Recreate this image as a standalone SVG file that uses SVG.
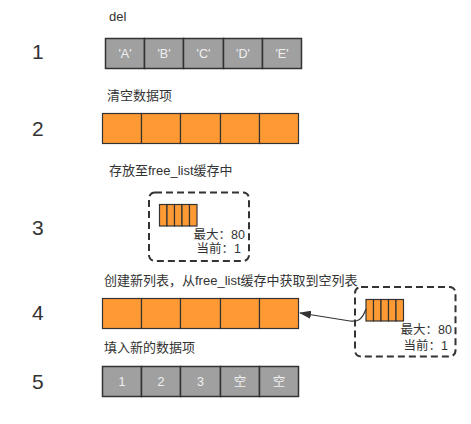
<svg xmlns="http://www.w3.org/2000/svg" width="471" height="424" viewBox="0 0 471 424">
<defs>
<style>
.num{font-family:"Liberation Sans",Arial,sans-serif;font-size:21px;fill:#333}
.lbl{font-family:"Liberation Sans","Noto Sans CJK SC",sans-serif;font-size:13px;fill:#333}
.gc{fill:#a0a0a0;stroke:#333;stroke-width:1.5}
.oc{fill:#fe9a33;stroke:#333;stroke-width:1.2}
.ct{font-family:"Liberation Sans","Noto Sans CJK SC",sans-serif;font-size:12.5px;fill:#f0f0f0;text-anchor:middle}
.dash{fill:none;stroke:#333;stroke-width:2;stroke-dasharray:7 4}
.info{font-family:"Liberation Sans","Noto Sans CJK SC",sans-serif;font-size:12.5px;fill:#333;text-anchor:end}
</style>
<marker id="ah" markerWidth="12" markerHeight="8" refX="11" refY="4" orient="auto" markerUnits="userSpaceOnUse">
<path d="M0,0 L12,4 L0,8 z" fill="#333"/>
</marker>
</defs>
<rect width="471" height="424" fill="#fff"/>

<g id="row-numbers">
<text class="num" x="32" y="59">1</text>
<text class="num" x="32" y="136">2</text>
<text class="num" x="32" y="235">3</text>
<text class="num" x="32" y="320">4</text>
<text class="num" x="32" y="389">5</text>
</g>

<g id="labels">
<text class="lbl" x="109" y="21">del</text>
<text class="lbl" x="107" y="100">清空数据项</text>
<text class="lbl" x="109" y="175">存放至free_list缓存中</text>
<text class="lbl" x="104" y="285">创建新列表，从free_list缓存中获取到空列表</text>
<text class="lbl" x="104" y="352">填入新的数据项</text>
</g>

<g id="list1">
<rect class="gc" x="105.5" y="38.5" width="39" height="30"/>
<rect class="gc" x="144.5" y="38.5" width="39" height="30"/>
<rect class="gc" x="183.5" y="38.5" width="40" height="30"/>
<rect class="gc" x="223.5" y="38.5" width="39" height="30"/>
<rect class="gc" x="262.5" y="38.5" width="39" height="30"/>
<text class="ct" x="125" y="58">'A'</text>
<text class="ct" x="164" y="58">'B'</text>
<text class="ct" x="203.5" y="58">'C'</text>
<text class="ct" x="243" y="58">'D'</text>
<text class="ct" x="282" y="58">'E'</text>
</g>

<g id="list2">
<rect class="oc" x="102.5" y="113.5" width="39" height="30"/>
<rect class="oc" x="141.5" y="113.5" width="39" height="30"/>
<rect class="oc" x="180.5" y="113.5" width="40" height="30"/>
<rect class="oc" x="220.5" y="113.5" width="39" height="30"/>
<rect class="oc" x="259.5" y="113.5" width="39" height="30"/>
</g>

<g id="cache3">
<rect class="dash" x="149" y="192.5" width="100" height="68.5" rx="6"/>
<rect class="oc" x="159.5" y="204.5" width="7.5" height="21.5"/>
<rect class="oc" x="167" y="204.5" width="7.5" height="21.5"/>
<rect class="oc" x="174.5" y="204.5" width="7.5" height="21.5"/>
<rect class="oc" x="182" y="204.5" width="7.5" height="21.5"/>
<rect class="oc" x="189.5" y="204.5" width="7.5" height="21.5"/>
<text class="info" x="245" y="239">最大：80</text>
<text class="info" x="241" y="253">当前：1</text>
</g>

<g id="list4">
<rect class="oc" x="102.5" y="298.5" width="39" height="30"/>
<rect class="oc" x="141.5" y="298.5" width="39" height="30"/>
<rect class="oc" x="180.5" y="298.5" width="40" height="30"/>
<rect class="oc" x="220.5" y="298.5" width="39" height="30"/>
<rect class="oc" x="259.5" y="298.5" width="39" height="30"/>
</g>

<g id="cache4">
<rect class="dash" x="355" y="287" width="100.5" height="69.5" rx="6"/>
<rect class="oc" x="366" y="299.5" width="7.5" height="21.5"/>
<rect class="oc" x="373.5" y="299.5" width="7.5" height="21.5"/>
<rect class="oc" x="381" y="299.5" width="7.5" height="21.5"/>
<rect class="oc" x="388.5" y="299.5" width="7.5" height="21.5"/>
<rect class="oc" x="396" y="299.5" width="7.5" height="21.5"/>
<text class="info" x="452" y="334">最大：80</text>
<text class="info" x="448" y="350">当前：1</text>
</g>

<g id="list5">
<rect class="gc" x="102.5" y="366.5" width="39" height="30"/>
<rect class="gc" x="141.5" y="366.5" width="39" height="30"/>
<rect class="gc" x="180.5" y="366.5" width="40" height="30"/>
<rect class="gc" x="220.5" y="366.5" width="39" height="30"/>
<rect class="gc" x="259.5" y="366.5" width="39" height="30"/>
<text class="ct" x="122" y="386">1</text>
<text class="ct" x="161" y="386">2</text>
<text class="ct" x="200.5" y="386">3</text>
<text class="ct" x="240" y="386">空</text>
<text class="ct" x="279" y="386">空</text>
</g>

<g id="connectors">
<path d="M366,309 C362,320 358,322 350,321 L300,313" fill="none" stroke="#333" stroke-width="1.2" marker-end="url(#ah)"/>
</g>
</svg>
